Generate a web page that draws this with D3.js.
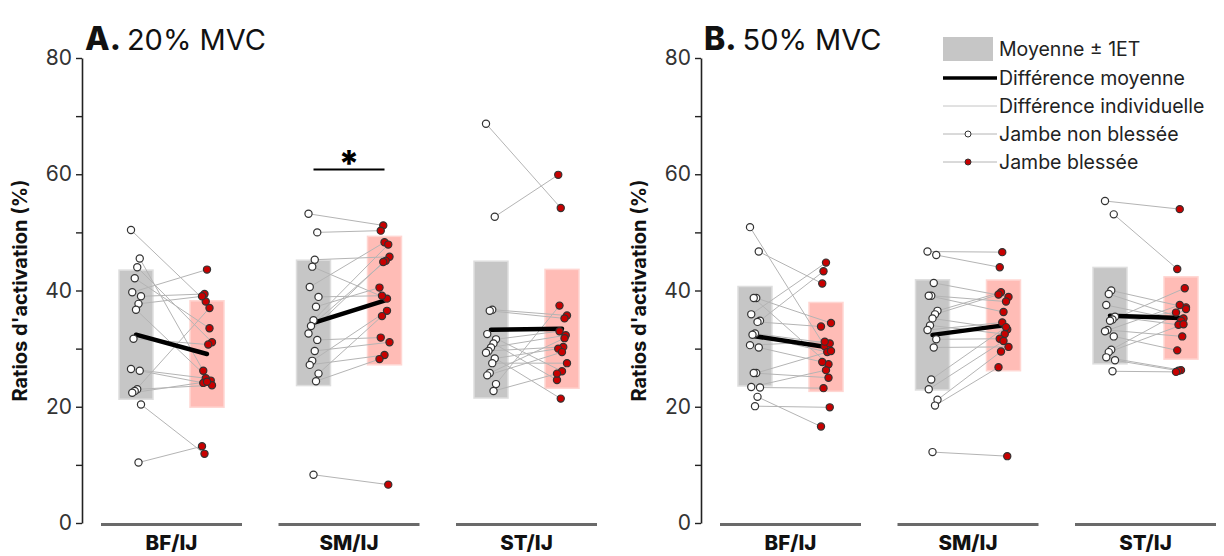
<!DOCTYPE html>
<html><head><meta charset="utf-8">
<script src="https://cdn.jsdelivr.net/npm/d3@7"></script>
<style>
body{margin:0;background:#fff}
text{font-family:Inter,"Noto Sans",sans-serif}
</style>
</head><body>
<svg id="c" width="1224" height="556"></svg>
<script>
// ---------- DATA ----------
const groups = ["BF/IJ", "SM/IJ", "ST/IJ"];
const yTicks = [0, 20, 40, 60, 80];
const yMinorTicks = [10, 30, 50, 70];
const panelLetters = ["A.", "B."];
const panelTitles = ["20% MVC", "50% MVC"];
const yLabel = "Ratios d'activation (%)";
const legendLabels = ["Moyenne \u00b1 1ET", "Diff\u00e9rence moyenne", "Diff\u00e9rence individuelle", "Jambe non bless\u00e9e", "Jambe bless\u00e9e"];

// 20% MVC
const a20_BF_non  = [50.4, 45.5, 44.0, 42.1, 39.7, 39.0, 37.7, 36.7, 31.7, 26.5, 26.2, 23.0, 22.7, 22.4, 20.4, 10.4];
const a20_BF_bles = [38.1, 26.2, 31.1, 33.5, 43.6, 39.4, 39.0, 24.5, 30.7, 24.9, 24.1, 23.7, 37.0, 24.3, 11.9, 13.2];
const a20_SM_non  = [53.2, 50.0, 45.3, 44.1, 40.6, 38.9, 37.2, 34.9, 33.9, 32.6, 31.5, 29.6, 27.9, 27.2, 25.7, 24.4, 8.3];
const a20_SM_bles = [51.2, 50.3, 45.8, 38.6, 48.3, 39.1, 40.5, 47.9, 45.1, 44.9, 31.9, 31.1, 36.5, 28.9, 35.6, 28.2, 6.6];
const a20_ST_non  = [68.7, 52.7, 36.7, 36.5, 32.5, 31.6, 30.9, 30.2, 29.6, 29.3, 28.3, 27.5, 25.8, 25.4, 23.9, 22.7];
const a20_ST_bles = [54.2, 59.9, 35.7, 35.2, 26.1, 33.0, 24.6, 32.3, 30.3, 21.4, 30.0, 27.5, 31.8, 29.4, 37.4, 25.7];
// 50% MVC
const b50_BF_non  = [50.9, 46.7, 38.7, 38.7, 35.9, 34.8, 34.6, 32.6, 32.4, 30.6, 30.2, 25.8, 25.8, 23.4, 23.3, 21.7, 20.1];
const b50_BF_bles = [30.4, 41.2, 34.4, 27.3, 44.8, 43.3, 33.8, 30.9, 29.4, 31.2, 27.7, 29.6, 25.0, 26.3, 23.2, 16.6, 19.9];
const b50_SM_non  = [46.7, 46.1, 41.3, 39.1, 39.1, 36.5, 35.9, 35.2, 34.0, 33.2, 31.6, 30.2, 24.7, 23.0, 21.2, 20.2, 12.2];
const b50_SM_bles = [46.6, 44.0, 38.9, 38.1, 36.3, 39.7, 39.3, 33.3, 32.5, 34.5, 31.7, 30.3, 33.7, 31.3, 29.5, 26.8, 11.5];
const b50_ST_non  = [55.4, 53.1, 40.0, 39.4, 37.5, 35.5, 35.0, 34.8, 33.2, 33.0, 32.1, 29.8, 29.4, 28.5, 28.0, 26.1];
const b50_ST_bles = [54.0, 43.7, 37.1, 35.2, 34.8, 34.1, 36.2, 40.4, 32.1, 37.5, 29.7, 36.8, 34.2, 26.3, 26.2, 26.0];

// significance: panel index, group, bar level, symbol
const sigPanel = [0];
const sigGroup = ["SM/IJ"];
const sigLevel = [60.8];
const sigSymbol = ["*"];

// ---------- BUILD ----------
const panelData = [
  [[a20_BF_non, a20_BF_bles], [a20_SM_non, a20_SM_bles], [a20_ST_non, a20_ST_bles]],
  [[b50_BF_non, b50_BF_bles], [b50_SM_non, b50_SM_bles], [b50_ST_non, b50_ST_bles]]
];
const panelAxisX = [82, 701];

const svg = d3.select("#c");
const y = d3.scaleLinear().domain([0, 80]).range([523, 58]);
const cond = d3.scalePoint().domain(["non", "bles"]).range([-35.5, 35.5]);
const jitter = i => ((i * 7) % 9 - 4) * 1.25;
const rectW = 34;
const greyFill = "#c6c6c6", pinkFill = "#ffbcb6", redFill = "#c80000";

panelAxisX.forEach((ax, p) => {
  const g = svg.append("g");
  const x = d3.scaleBand().domain(groups).range([ax + 0.75, ax + 0.75 + 3 * 177.5]);
  const cx = gname => x(gname) + x.bandwidth() / 2;

  // axis
  const axis = d3.axisLeft(y).tickValues(yTicks.concat(yMinorTicks))
    .tickFormat(d => yTicks.includes(d) ? d : "").tickSize(6).tickSizeOuter(0);
  const axg = g.append("g").attr("transform", `translate(${ax},0)`).call(axis);
  axg.select(".domain").attr("stroke", "#222").attr("stroke-width", 1.6);
  axg.selectAll(".tick line").attr("stroke", "#222").attr("stroke-width", 1.4);
  axg.selectAll(".tick text").attr("font-size", 21).attr("fill", "#333").attr("x", -10)
    .style("font-family", "Inter, 'Noto Sans', sans-serif");

  // y label
  g.append("text").attr("transform", `translate(${ax - 55},${y(40)}) rotate(-90)`)
    .attr("text-anchor", "middle").attr("font-size", 20).attr("font-weight", 700)
    .attr("fill", "#111").text(yLabel);

  // title
  const t = g.append("text").attr("x", ax + 3).attr("y", 50).attr("fill", "#111");
  t.append("tspan").attr("font-size", 32).attr("font-weight", 800).text(panelLetters[p]);
  t.append("tspan").attr("font-size", 29).attr("font-weight", 400).attr("dx", 6).text(panelTitles[p]);

  groups.forEach((gname, gi) => {
    const [non, bles] = panelData[p][gi];
    const c = cx(gname);
    const xn = c + cond("non"), xb = c + cond("bles");
    const mN = d3.mean(non), mB = d3.mean(bles);
    const sN = d3.deviation(non), sB = d3.deviation(bles);

    // baseline + label
    g.append("line").attr("x1", c - 70.5).attr("x2", c + 70.5).attr("y1", y(0) + 1.5).attr("y2", y(0) + 1.5)
      .attr("stroke", "#6a6a6a").attr("stroke-width", 3);
    g.append("text").attr("x", c).attr("y", 550).attr("text-anchor", "middle")
      .attr("font-size", 20.5).attr("font-weight", 800).attr("fill", "#111").text(gname);

    // SD rects
    g.append("rect").attr("x", xn - rectW / 2).attr("width", rectW)
      .attr("y", y(mN + sN)).attr("height", y(mN - sN) - y(mN + sN))
      .attr("fill", greyFill).attr("stroke", "#dedede").attr("stroke-width", 1.5);
    g.append("rect").attr("x", xb - rectW / 2).attr("width", rectW)
      .attr("y", y(mB + sB)).attr("height", y(mB - sB) - y(mB + sB))
      .attr("fill", pinkFill).attr("stroke", "#ffd6d2").attr("stroke-width", 1.5);

    // individual lines
    const n = Math.min(non.length, bles.length);
    const pairs = d3.range(n).map(i => ({a: non[i], b: bles[i], i}));
    g.selectAll(null).data(pairs).join("line")
      .attr("x1", d => xn + jitter(d.i)).attr("y1", d => y(d.a))
      .attr("x2", d => xb + jitter(d.i + 3)).attr("y2", d => y(d.b))
      .attr("stroke", "#b4b4b4").attr("stroke-width", 1);

    // mean line
    g.append("line").attr("x1", xn).attr("y1", y(mN)).attr("x2", xb).attr("y2", y(mB))
      .attr("stroke", "#000").attr("stroke-width", 4.5).attr("stroke-linecap", "round");

    // points
    g.selectAll(null).data(non).join("circle")
      .attr("cx", (d, i) => xn + jitter(i)).attr("cy", d => y(d)).attr("r", 3.6)
      .attr("fill", "#fff").attr("stroke", "#333").attr("stroke-width", 1.2);
    g.selectAll(null).data(bles).join("circle")
      .attr("cx", (d, i) => xb + jitter(i + 3)).attr("cy", d => y(d)).attr("r", 3.6)
      .attr("fill", redFill).attr("stroke", "#333").attr("stroke-width", 1.2);
  });

  // significance
  sigPanel.forEach((sp, k) => {
    if (sp !== p) return;
    const c = cx(sigGroup[k]);
    g.append("line").attr("x1", c + cond("non")).attr("x2", c + cond("bles"))
      .attr("y1", y(sigLevel[k])).attr("y2", y(sigLevel[k]))
      .attr("stroke", "#000").attr("stroke-width", 2);
    g.append("text").attr("x", c).attr("y", y(sigLevel[k]) + 6).attr("text-anchor", "middle")
      .attr("font-size", 36).attr("font-weight", 800).attr("fill", "#000").text(sigSymbol[k]);
  });
});

// legend
const lg = svg.append("g");
const lx0 = 943, lx1 = 997, tx = 999;
const rowY = [49, 78, 106, 134, 162];
lg.append("rect").attr("x", lx0).attr("y", rowY[0] - 12).attr("width", 50).attr("height", 24).attr("fill", greyFill);
lg.append("line").attr("x1", lx0).attr("x2", lx1).attr("y1", rowY[1]).attr("y2", rowY[1]).attr("stroke", "#000").attr("stroke-width", 3.5);
lg.append("line").attr("x1", lx0).attr("x2", lx1).attr("y1", rowY[2]).attr("y2", rowY[2]).attr("stroke", "#c4c4c4").attr("stroke-width", 1);
[3, 4].forEach(r => {
  lg.append("line").attr("x1", lx0).attr("x2", lx1).attr("y1", rowY[r]).attr("y2", rowY[r]).attr("stroke", "#b4b4b4").attr("stroke-width", 1);
  lg.append("circle").attr("cx", (lx0 + lx1) / 2 - 2).attr("cy", rowY[r]).attr("r", 3)
    .attr("fill", r === 3 ? "#fff" : redFill).attr("stroke", "#333").attr("stroke-width", 1);
});
legendLabels.forEach((l, i) => {
  lg.append("text").attr("x", tx).attr("y", rowY[i]).attr("dy", "0.35em")
    .attr("font-size", 19.5).attr("fill", "#222").text(l);
});
</script>
</body></html>
